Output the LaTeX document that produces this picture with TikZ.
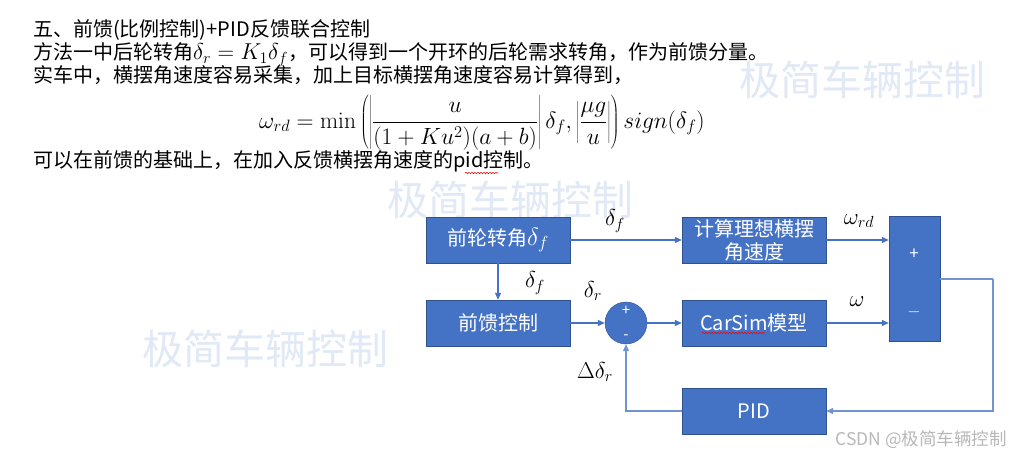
\RequirePackage{fix-cm}
\documentclass[tikz,border=0pt]{standalone}
\usepackage[no-math]{fontspec}
\setmainfont{Noto Sans CJK SC}
\usetikzlibrary{arrows.meta,decorations.pathmorphing}
\definecolor{boxblue}{HTML}{4472C4}
\definecolor{boxline}{HTML}{2F528F}
\definecolor{fbline}{HTML}{6F93D3}
\definecolor{wmblue}{HTML}{E0E9F5}
\newcommand{\formulasize}{\fontsize{23.5}{27}\selectfont}
\begin{document}
\begin{tikzpicture}[x=1pt, y=-1pt,
    txt/.style={anchor=base west, inner sep=0pt, font=\fontsize{20}{24}\selectfont},
    blk/.style={draw=boxline, fill=boxblue, text=white, minimum width=144pt, minimum height=46pt,
        inner sep=0pt, align=center, font=\fontsize{20}{23}\selectfont},
    lbl/.style={inner sep=0pt, font=\fontsize{23}{26}\selectfont},
    sgn/.style={inner sep=0pt, text=white},
    arr/.style={draw=boxblue, line width=1.1pt, -{Triangle[length=7pt,width=6pt]}},
    fb/.style={draw=fbline, line width=1.1pt},
    wm/.style={inner sep=0pt, text=wmblue, font=\fontsize{41}{41}\selectfont},
    squig/.style={draw=red, line width=0.6pt, decorate, decoration={snake, amplitude=0.7pt, segment length=3pt}}]
    \useasboundingbox[fill=white] (0,0) rectangle (1023,457);

    % watermarks
    \node[wm] (wm1) at (862,80) {极简车辆控制};
    \node[wm] (wm2) at (510,200) {极简车辆控制};
    \node[wm] (wm3) at (265,349) {极简车辆控制};
    \node[inner sep=0pt, text=black!28, font=\fontsize{17.5}{17.5}\selectfont] (csdn) at (921,440) {CSDN @极简车辆控制};

    % text above the diagram
    \node[txt] (title) at (33,37) {五、前馈(比例控制)+PID反馈联合控制};
    \node[txt] (line2) at (33,60) {方法一中后轮转角{\fontsize{23}{24}\selectfont$\delta_r = K_1\delta_f$}，可以得到一个开环的后轮需求转角，作为前馈分量。};
    \node[txt] (line3) at (33,83) {实车中，横摆角速度容易采集，加上目标横摆角速度容易计算得到，};
    \node[inner sep=0pt, font=\formulasize] (formula) at (482,123)
        {$\displaystyle \omega_{rd} = \min\left(\left|\frac{u}{(1+Ku^2)(a+b)}\right|\delta_f,\left|\frac{\mu g}{u}\right|\right) sign(\delta_f)$};
    \node[txt] (line5) at (33,168) {可以在前馈的基础上，在加入反馈横摆角速度的pid控制。};
    \draw[squig] (465,173) -- (498,173);

    % blocks
    \node[blk] (wheel) at (498,240) {前轮转角{\fontsize{25}{23}\selectfont$\delta_f$}};
    \node[blk] (ff) at (498,323) {前馈控制};
    \node[circle, draw=boxline, fill=boxblue, minimum size=42pt, inner sep=0pt] (sum) at (626,323) {};
    \node[blk] (ideal) at (754,240) {计算理想横摆\\角速度};
    \node[blk] (carsim) at (754,323) {CarSim模型};
    \node[blk] (pid) at (754,411) {PID};
    \node[draw=boxline, fill=boxblue, minimum width=51pt, minimum height=125pt, inner sep=0pt] (cmp) at (914.5,278.5) {};
    \draw[squig] (702,333) -- (765,333);

    % signs
    \node[sgn, font=\fontsize{15}{15}\selectfont] (sumplus) at (626,311) {+};
    \node[sgn, font=\fontsize{15}{15}\selectfont] (summinus) at (626,337) {-};
    \node[sgn, font=\fontsize{17}{17}\selectfont] (cmpplus) at (914,254) {+};
    \node[sgn, font=\fontsize{17}{17}\selectfont] (cmpminus) at (914,312) {$-$};

    % connectors
    \draw[arr] (wheel) -- (ideal);
    \draw[arr] (wheel) -- (ff);
    \draw[arr] (ff) -- (sum);
    \draw[arr] (sum) -- (carsim);
    \draw[arr] (ideal.east) -- (ideal.east -| cmp.west);
    \draw[arr] (carsim.east) -- (carsim.east -| cmp.west);
    \coordinate (turn) at (993,279);
    \draw[fb] (cmp.east |- turn) -- (turn);
    \draw[fb, -{Triangle[length=7pt,width=6pt]}] (turn) |- (pid.east);
    \draw[fb, -{Triangle[length=7pt,width=6pt]}] (pid.west) -| (sum.south);

    % signal labels
    \node[lbl] (dftop) at (615,221) {$\delta_f$};
    \node[lbl] (dfdown) at (535,283) {$\delta_f$};
    \node[lbl] (dr) at (593,291) {$\delta_r$};
    \node[lbl] (ddr) at (595,372) {$\Delta\delta_r$};
    \node[lbl] (wrd) at (859,221) {$\omega_{rd}$};
    \node[lbl] (w) at (857,302) {$\omega$};
\end{tikzpicture}
\end{document}
